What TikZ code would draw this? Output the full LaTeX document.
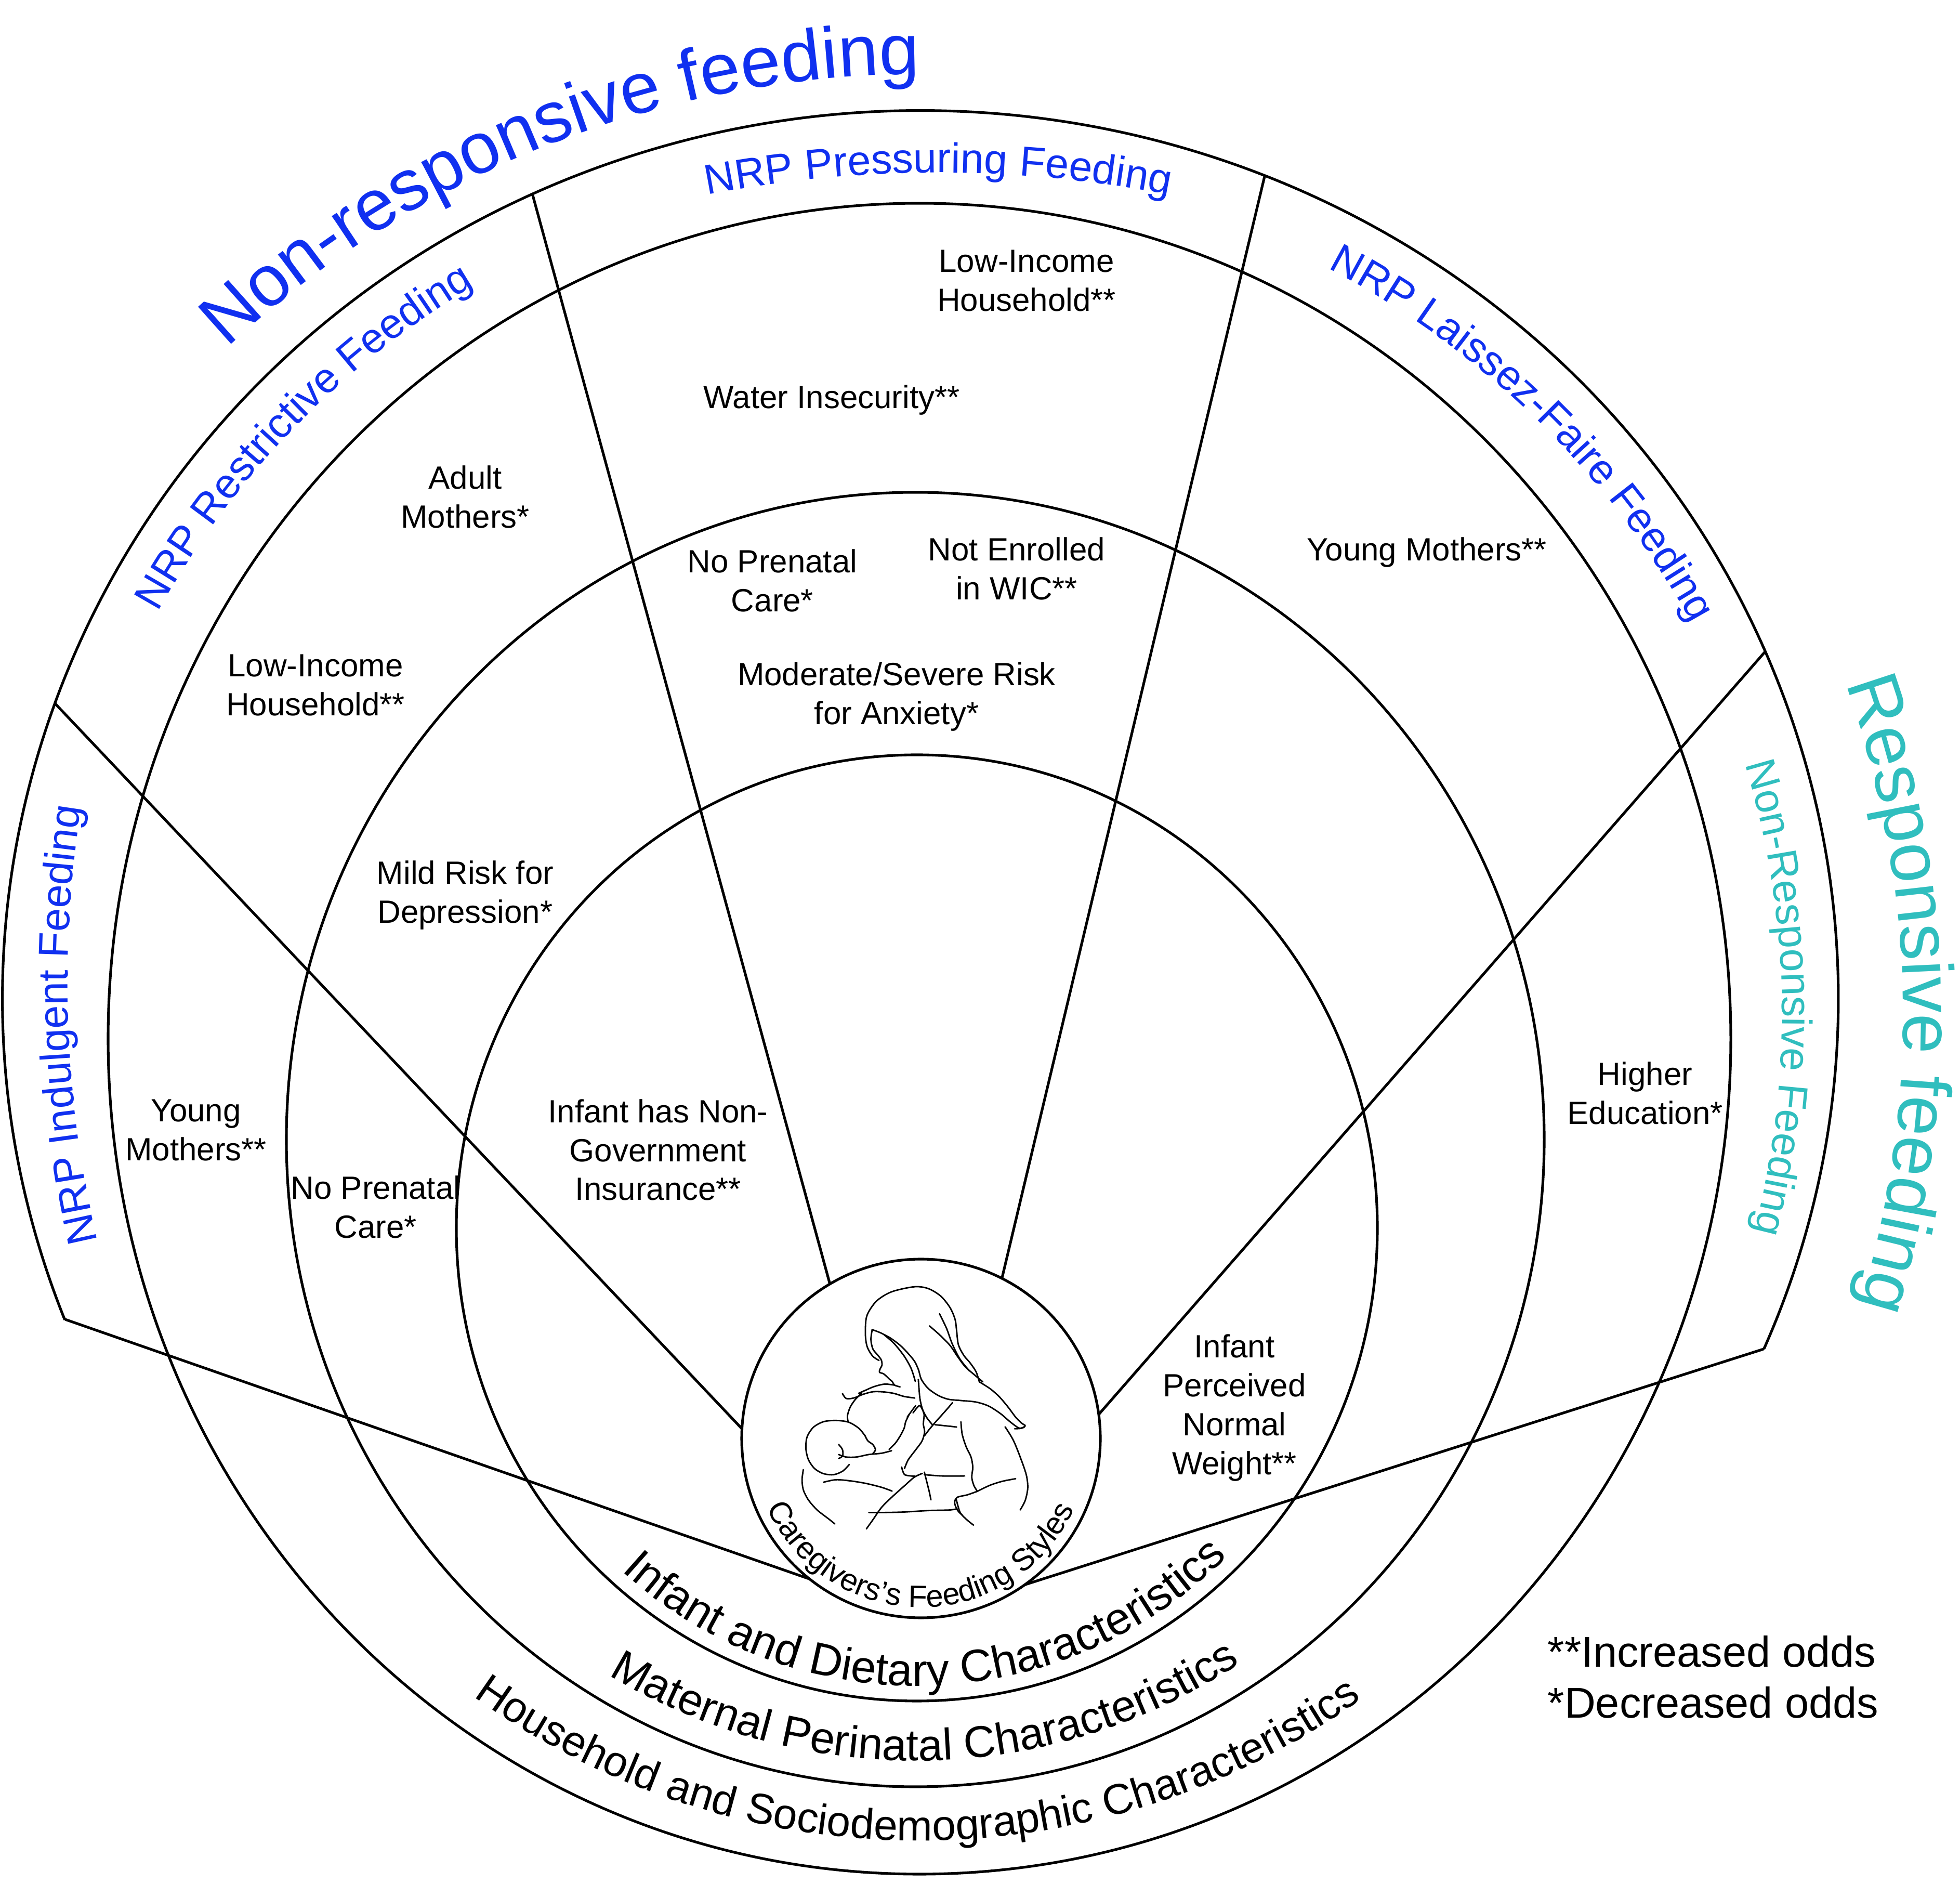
\documentclass[tikz,border=0pt]{standalone}
\usepackage{fontspec}
\setmainfont{Liberation Sans}
\usetikzlibrary{decorations.text,calc}
\definecolor{nrpblue}{RGB}{16,48,240}
\definecolor{rpteal}{RGB}{48,190,190}
\newcommand{\factfont}{\fontsize{17.6pt}{21.3pt}\selectfont}
\newcommand{\nrpfont}{\fontsize{23pt}{27pt}\selectfont}
\newcommand{\stylefont}{\fontsize{39.5pt}{47pt}\selectfont}
\newcommand{\hubfont}{\fontsize{17pt}{20pt}\selectfont}
\newcommand{\keyfont}{\fontsize{23.6pt}{27.9pt}\selectfont}

\tikzset{
  ring line/.style={line width=1.45pt},
  fact/.style={font=\factfont, align=center, inner sep=0pt},
  sketch/.style={line width=0.8pt, line cap=round, line join=round},
}

\begin{document}
\begin{tikzpicture}
\useasboundingbox[fill=white] (0,0) rectangle (37.71,36.23);
\coordinate (O) at (17.71,17.02);
\coordinate (F) at (17.72,5.11);
\coordinate (C2) at (17.64,12.61);
\coordinate (C3) at (17.61,14.31);
\coordinate (C4) at (17.69,16.25);

% rings
\draw[ring line] (C2) ellipse [x radius=8.86, y radius=9.10];
\draw[ring line] (C3) ellipse [x radius=12.10, y radius=12.45];
\draw[ring line] (C4) ellipse [x radius=15.61, y radius=16.07];
\draw[ring line] ($(O)+(201.2:17.66 and 17.08)$) arc[start angle=201.2, end angle=-23.25, x radius=17.66, y radius=17.08];

% sector borders
\begin{scope}
\clip (O) ellipse [x radius=17.66, y radius=17.08];
\foreach \a in {160.78,133.45,105.27,76.59,48.85,17.69}
  \draw[ring line] (F) -- ++(\a:30);
\end{scope}

\node[circle, draw, fill=white, ring line, minimum size=6.9cm, inner sep=0pt] (hub) at (17.72,8.56) {};

% mother and child
\begin{scope}[shift={(14,12.23)}, x=0.004847cm, y=-0.004847cm, sketch]
\draw plot[smooth] coordinates {(600,447) (575,430) (553,392) (546,340) (552,270) (590,212) (650,175) (740,155) (795,162) (845,192) (882,238) (902,285) (908,330) (915,385) (937,428) (960,455) (985,492) (998,532)};
\draw plot[smooth] coordinates {(573,325) (568,365) (576,402) (596,427) (609,445) (612,465) (604,482) (602,494) (618,500) (632,512) (642,522) (652,530) (662,545) (684,552)};
\draw plot[smooth] coordinates {(573,325) (605,337) (645,358) (685,388) (718,422) (742,452) (757,485) (768,522) (795,558) (835,586) (875,601) (925,606) (985,612) (1035,628) (1082,658) (1122,692) (1155,715) (1176,712)};
\draw plot[smooth] coordinates {(800,310) (842,347) (882,388) (912,432) (942,472) (982,507) (1012,532)};
\draw plot[smooth] coordinates {(620,345) (660,380) (700,430) (728,480) (744,530)};
\draw plot[smooth] coordinates {(840,262) (868,320) (890,380) (920,440) (958,488)};
\draw plot[smooth] coordinates {(998,532) (1042,560) (1078,592) (1112,632) (1142,672) (1166,696) (1180,706) (1164,716) (1138,718)};
\draw plot[smooth] coordinates {(742,596) (700,590) (660,578) (620,572) (578,571) (538,581) (500,596) (470,598) (455,578)};
\draw plot[smooth] coordinates {(662,545) (622,541) (580,551) (545,566) (520,577)};
\draw plot[smooth] coordinates {(756,522) (759,562) (763,602) (773,642) (791,676) (812,702)};
\draw plot[smooth] coordinates {(532,576) (506,602) (486,632) (475,666) (478,692)};
\draw plot[smooth] coordinates {(892,614) (870,640) (845,668) (820,696) (800,720) (780,746)};
\draw plot[smooth] coordinates {(822,702) (862,706) (908,711)};
\draw plot[smooth] coordinates {(925,690) (930,740) (946,790) (965,830) (972,870) (968,910) (976,942) (990,966)};
\draw plot[smooth] coordinates {(1100,710) (1132,762) (1160,830) (1184,900) (1190,952) (1180,1002) (1160,1040)};
\draw plot[smooth] coordinates {(990,966) (1040,942) (1090,926) (1142,916)};
\draw plot[smooth] coordinates {(990,966) (950,980) (910,990) (900,1012) (912,1042) (932,1062)};
\draw plot[smooth] coordinates {(906,996) (922,1050) (950,1080) (975,1100)};
\draw plot[smooth] coordinates {(545,746) (520,716) (480,692) (430,685) (380,690) (340,712) (315,750) (310,795) (320,840) (345,876) (380,896) (420,900) (456,886) (482,860)};
\draw plot[smooth] coordinates {(440,780) (455,800) (456,825) (440,836)};
\draw plot[smooth] coordinates {(545,746) (556,766) (576,781) (586,801) (576,816)};
\draw plot[smooth] coordinates {(640,800) (665,775) (685,745) (700,715) (706,690) (720,660)};
\draw plot[smooth] coordinates {(712,672) (735,640) (746,626)};
\draw plot[smooth] coordinates {(735,655) (760,626) (772,642)};
\draw plot[smooth] coordinates {(772,642) (779,662) (776,700) (781,730) (771,766) (746,801) (716,841) (701,876)};
\draw plot[smooth] coordinates {(690,870) (702,900) (742,906)};
\draw plot[smooth] coordinates {(440,820) (470,830) (510,830) (560,820) (610,815) (650,805)};
\draw plot[smooth] coordinates {(300,880) (295,920) (300,960) (320,1000) (355,1040) (400,1075) (425,1095)};
\draw plot[smooth] coordinates {(380,930) (430,920) (490,925) (550,935) (610,950) (652,965)};
\draw plot[smooth] coordinates {(550,1115) (575,1080) (610,1030) (650,990) (700,945) (740,910) (772,895)};
\draw plot[smooth] coordinates {(560,1050) (620,1050) (700,1048) (800,1042) (880,1040) (910,1035)};
\draw plot[smooth] coordinates {(780,890) (790,930) (800,970) (806,1000)};
\draw plot[smooth] coordinates {(780,900) (850,905) (940,905)};
\end{scope}

% findings
\node[fact] (L0) at (19.75,30.83) {Low-Income\\Household**};
\node[fact] (L1) at (16.00,28.53) {Water Insecurity**};
\node[fact] (L2) at (8.95,26.67) {Adult\\Mothers*};
\node[fact] (L3) at (14.86,25.06) {No Prenatal\\Care*};
\node[fact] (L4) at (19.56,25.29) {Not Enrolled\\in WIC**};
\node[fact] (L5) at (17.25,22.83) {Moderate/Severe Risk\\for Anxiety*};
\node[fact] (L6) at (6.07,23.05) {Low-Income\\Household**};
\node[fact] (L7) at (8.95,19.01) {Mild Risk for\\Depression*};
\node[fact] (L8) at (27.45,25.60) {Young Mothers**};
\node[fact] (L9) at (3.77,14.49) {Young\\Mothers**};
\node[fact] (L10) at (7.23,13.01) {No Prenatal\\Care*};
\node[fact] (L11) at (12.66,14.11) {Infant has Non-\\Government\\Insurance**};
\node[fact] (L12) at (31.65,15.20) {Higher\\Education*};
\node[fact] (L13) at (23.75,9.15) {Infant\\Perceived\\Normal\\Weight**};
\node[font=\keyfont, align=left, inner sep=0pt, anchor=west] (key) at (29.77,3.97) {**Increased odds\\*Decreased odds};

% curved titles
\path[decorate, decoration={text along path, text align=center, text color=nrpblue, text={|\stylefont|Non-responsive feeding}}] ($(17.71,15.29)+(139.6:19.51)$) arc[start angle=139.6, end angle=83.6, radius=19.51];
\path[decorate, decoration={text along path, text align=center, text color=rpteal, text={|\stylefont|Responsive feeding}}] ($(17.71,16.69)+(23.3:18.91)$) arc[start angle=23.3, end angle=-20.7, radius=18.91];
\path[decorate, decoration={text along path, text align=center, text color=nrpblue, text={|\nrpfont|NRP Indulgent Feeding}}] ($(23.00,17.33)+(195.15:21.70)$) arc[start angle=195.15, end angle=169.15, radius=21.70];
\path[decorate, decoration={text along path, text align=center, text color=nrpblue, text={|\nrpfont|NRP Restrictive Feeding}}] ($(17.71,16.33)+(152.9:16.77)$) arc[start angle=152.9, end angle=118.9, radius=16.77];
\path[decorate, decoration={text along path, text align=center, text color=nrpblue, text={|\nrpfont|NRP Pressuring Feeding}}] ($(18.05,9.71)+(104:23.2)$) arc[start angle=104, end angle=76, radius=23.2];
\path[decorate, decoration={text along path, text align=center, text color=nrpblue, text={|\nrpfont|NRP Laissez-Faire Feeding}}] ($(17.71,16.03)+(65.7:16.96)$) arc[start angle=65.7, end angle=25.7, radius=16.96];
\path[decorate, decoration={text along path, text align=center, text color=rpteal, text={|\nrpfont|Non-Responsive Feeding}}] ($(17.71,16.73)+(21.1:16.58)$) arc[start angle=21.1, end angle=-18.9, radius=16.58];

% ring titles
\path[decorate, decoration={text along path, text align=center, text={|\hubfont|Caregivers’s Feeding Styles}}] ($(17.72,8.56)+(194.75:3.25)$) arc[start angle=194.75, end angle=344.75, radius=3.25];
\path[decorate, decoration={text along path, text align=center, text={|\fontsize{24.8pt}{29pt}\selectfont|Infant and Dietary Characteristics}}] ($(C2)+(225.3:8.58 and 8.81)$) arc[start angle=225.3, end angle=317.3, x radius=8.58, y radius=8.81];
\path[decorate, decoration={text along path, text align=center, text={|\fontsize{24.3pt}{29pt}\selectfont|Maternal Perinatal Characteristics}}] ($(C3)+(236:11.62 and 11.95)$) arc[start angle=236, end angle=306, x radius=11.62, y radius=11.95];
\path[decorate, decoration={text along path, text align=center, text={|\fontsize{23.4pt}{28pt}\selectfont|Household and Sociodemographic Characteristics}}] ($(C4)+(229.8:14.99 and 15.43)$) arc[start angle=229.8, end angle=309.8, x radius=14.99, y radius=15.43];
\end{tikzpicture}
\end{document}
